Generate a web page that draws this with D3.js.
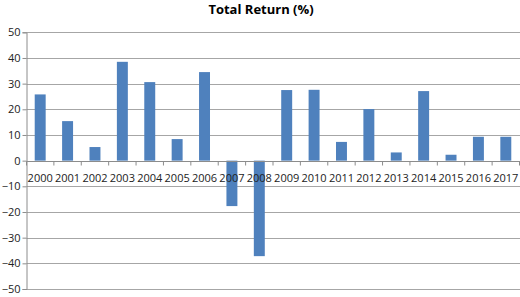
<!DOCTYPE html>
<html><head><meta charset="utf-8">
<script src="https://cdn.jsdelivr.net/npm/d3@7"></script>
<style>body{margin:0;background:#fff}svg{display:block}</style>
</head><body>
<script>
const years = ["2000","2001","2002","2003","2004","2005","2006","2007","2008","2009","2010","2011","2012","2013","2014","2015","2016","2017"];
const totalReturn = [25.8,15.4,5.3,38.5,30.6,8.4,34.5,-17.7,-37.2,27.5,27.6,7.3,20.1,3.2,27.1,2.3,9.3,9.3];
const yTicks = [-50,-40,-30,-20,-10,0,10,20,30,40,50];
const title = "Total Return (%)";

const W = 520, H = 297;
const svg = d3.select("body").append("svg").attr("width", W).attr("height", H);
const font = "'Open Sans', sans-serif";

const x = d3.scaleBand().domain(years).range([26.5, 519.5]).paddingInner(0.6).paddingOuter(0.3);
const xb = d3.scaleBand().domain(years).range([26.5, 519.5]);
const y = d3.scaleLinear().domain([-50, 50]).range([289, 32.3]);

svg.append("text").attr("x", 261).attr("y", 14).attr("text-anchor", "middle")
  .attr("font-family", font).attr("font-weight", "bold").attr("font-size", 13)
  .attr("fill", "#000").text(title);

// gridlines
svg.append("g").selectAll("line").data(yTicks).join("line")
  .attr("x1", 26.5).attr("x2", 520)
  .attr("y1", d => Math.round(y(d)) + 0.5).attr("y2", d => Math.round(y(d)) + 0.5)
  .attr("stroke", "#a6a6a6").attr("stroke-width", 1.2);

// y axis
const yAxis = d3.axisLeft(y).tickValues(yTicks).tickSize(4).tickFormat(d => d === 0 ? "0" : (d < 0 ? "\u2212" + Math.abs(d) : d));
const gy = svg.append("g").attr("transform", "translate(26.5,0)").call(yAxis);
gy.select(".domain").attr("stroke", "#8c8c8c");
gy.selectAll(".tick line").attr("stroke", "#8c8c8c");
gy.selectAll(".tick text").attr("font-family", font).attr("font-size", 11).attr("fill", "#222").attr("x", -6);

// bars
svg.append("g").selectAll("rect").data(years).join("rect")
  .attr("x", (d) => x(d))
  .attr("width", x.bandwidth())
  .attr("y", (d, i) => Math.min(y(totalReturn[i]), y(0)))
  .attr("height", (d, i) => Math.abs(y(totalReturn[i]) - y(0)))
  .attr("fill", "#4f81bd");

// x axis at zero
const xAxis = d3.axisBottom(xb).tickSize(0).tickPadding(0);
const gx = svg.append("g").attr("transform", `translate(0,${Math.round(y(0)) + 0.5})`).call(xAxis);
gx.select(".domain").remove();
gx.append("line").attr("x1", 26.5).attr("x2", 520).attr("stroke", "#8c8c8c").attr("stroke-width", 1.2);
gx.selectAll(".tick text").attr("font-family", font).attr("font-size", 11).attr("fill", "#222").attr("dy", "0").attr("y", 20);
// tick marks between categories
gx.append("g").selectAll("line").data(d3.range(years.length + 1)).join("line")
  .attr("x1", i => 26.5 + i * xb.step()).attr("x2", i => 26.5 + i * xb.step())
  .attr("y1", 0).attr("y2", 4).attr("stroke", "#8c8c8c");
</script>
</body></html>
